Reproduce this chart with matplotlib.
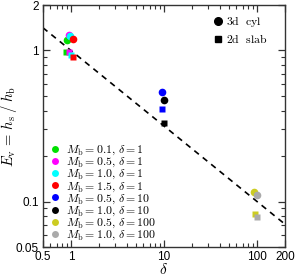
import matplotlib
matplotlib.use("Agg")
import matplotlib.pyplot as plt
import numpy as np
from matplotlib.lines import Line2D
from matplotlib.ticker import FixedLocator, LogLocator, NullFormatter

plt.rcParams['mathtext.fontset'] = 'cm'
plt.rcParams['font.family'] = ['Liberation Sans', 'DejaVu Sans']

# data: (label, color, delta position, E_v 3d cyl, E_v 2d slab)
labels = [r'$M_{\rm b}=0.1,\,\delta=1$', r'$M_{\rm b}=0.5,\,\delta=1$',
          r'$M_{\rm b}=1.0,\,\delta=1$', r'$M_{\rm b}=1.5,\,\delta=1$',
          r'$M_{\rm b}=0.5,\,\delta=10$', r'$M_{\rm b}=1.0,\,\delta=10$',
          r'$M_{\rm b}=0.5,\,\delta=100$', r'$M_{\rm b}=1.0,\,\delta=100$']
colors = ['#00e000', '#ff00ff', '#00ffff', '#ff0000', '#0000ff', '#000000',
          '#cccc22', '#aaaaaa']
delta_cyl = [0.90, 0.95, 0.98, 1.06, 9.6, 10.0, 93.5, 100.5]
ev_cyl = [1.17, 1.26, 1.24, 1.20, 0.53, 0.47, 0.115, 0.111]
delta_slab = [0.89, 0.95, 1.0, 1.06, 9.6, 10.0, 95.0, 100.0]
ev_slab = [0.98, 0.97, 0.94, 0.91, 0.41, 0.333, 0.0826, 0.0789]

line_delta = [0.5, 200]
line_exp = -0.5
line_coef = 1.0

xticks = [0.5, 1, 10, 100, 200]
xticklabels = ['0.5', '1', '10', '100', '200']
yticks = [0.05, 0.1, 1, 2]
yticklabels = ['0.05', '0.1', '1', '2']

fig = plt.figure(figsize=(2.96, 2.78), dpi=100)
ax = fig.add_axes([0.145, 0.1115, 0.818, 0.8705])
ax.set_xscale('log')
ax.set_yscale('log')

xl = np.array(line_delta)
ax.plot(xl, line_coef * xl ** line_exp, color='black', lw=1.2,
        dashes=(3.5, 3.0), zorder=1)

for i in range(len(labels)):
    ax.plot(delta_cyl[i], ev_cyl[i], 'o', color=colors[i], ms=5.5,
            mec='none', zorder=3)
    ax.plot(delta_slab[i], ev_slab[i], 's', color=colors[i], ms=4.3,
            mec='none', zorder=3)

ax.set_xlim(0.5, 200)
ax.set_ylim(0.05, 2)

ax.xaxis.set_major_locator(FixedLocator(xticks))
ax.set_xticklabels(xticklabels)
ax.yaxis.set_major_locator(FixedLocator(yticks))
ax.set_yticklabels(yticklabels)
ax.xaxis.set_minor_locator(LogLocator(base=10, subs=np.arange(2, 10) * 1.0, numticks=20))
ax.yaxis.set_minor_locator(LogLocator(base=10, subs=np.arange(2, 10) * 1.0, numticks=20))
ax.xaxis.set_minor_formatter(NullFormatter())
ax.yaxis.set_minor_formatter(NullFormatter())

ax.tick_params(which='both', direction='in', top=True, right=True,
               color='#333333', labelsize=8.5, pad=3)
ax.tick_params(which='major', length=5, width=0.9)
ax.tick_params(which='minor', length=2.8, width=0.8)
for s in ax.spines.values():
    s.set_color('#333333')
    s.set_linewidth(1.0)

ax.set_xlabel(r'$\delta$', fontsize=11, labelpad=-1)
ax.set_ylabel(r'$E_{\rm v}\,=\,h_{\rm s}\;/\;h_{\rm b}$', fontsize=10.5)
ax.yaxis.set_label_coords(-0.10, 0.5)

handles = [Line2D([], [], ls='none', marker='o', color=c, mec='none', ms=5)
           for c in colors]
leg1 = ax.legend(handles, labels, loc='lower left', fontsize=8.5,
                 frameon=False, handlelength=0.8, handletextpad=0.55,
                 labelspacing=-0.1, borderaxespad=0.0,
                 bbox_to_anchor=(0.01, 0.0))
ax.add_artist(leg1)

h2 = [Line2D([], [], ls='none', marker='o', color='black', ms=5.5),
      Line2D([], [], ls='none', marker='s', color='black', ms=4.3)]
ax.legend(h2, [r'$\mathrm{3d\ \ cyl}$', r'$\mathrm{2d\ \ slab}$'],
          loc='upper right', fontsize=8.5, frameon=False, handlelength=0.8,
          handletextpad=0.3, labelspacing=0.3, borderaxespad=0.4,
          bbox_to_anchor=(0.965, 1.0))

fig.savefig('out.png', dpi=100)
